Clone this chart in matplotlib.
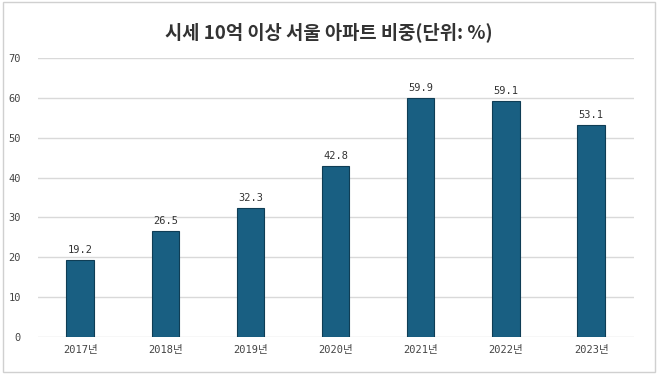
import matplotlib
matplotlib.use("Agg")
import matplotlib.pyplot as plt
from matplotlib.patches import Rectangle

years = ["2017년", "2018년", "2019년", "2020년", "2021년", "2022년", "2023년"]
values = [19.2, 26.5, 32.3, 42.8, 59.9, 59.1, 53.1]
title = "시세 10억 이상 서울 아파트 비중(단위: %)"

plt.rcParams['font.family'] = ['DejaVu Sans Mono', 'Noto Sans CJK KR']

fig = plt.figure(figsize=(6.58, 3.74), dpi=100)
ax = fig.add_axes([0.057, 0.099, 0.906, 0.746])

x = list(range(len(years)))
bars = ax.bar(x, values, width=0.32, color="#195f82", edgecolor="#0f3d55", linewidth=0.8, zorder=3)
for xi, v in zip(x, values):
    ax.text(xi, v + 1.3, f"{v:.1f}", ha="center", va="bottom", fontsize=7.5, color="#333333")

ax.set_xlim(-0.5, len(years) - 0.5)
ax.set_ylim(0, 70)
ax.set_yticks(range(0, 71, 10))
ax.set_xticks(x)
ax.set_xticklabels(years, family=['DejaVu Sans Mono', 'Noto Sans CJK KR'])
ax.tick_params(axis="both", length=0, labelsize=7.5, colors="#444444")
ax.tick_params(axis="y", pad=12)
ax.tick_params(axis="x", pad=6)
ax.grid(axis="y", color="#d9d9d9", linewidth=1, zorder=0)
for s in ax.spines.values():
    s.set_visible(False)

fig.text(0.5, 0.915, title, ha="center", va="center", fontsize=13.5, fontweight="bold",
         color="#333333", family=['Noto Sans CJK KR', 'DejaVu Sans'])

fig.patches.append(Rectangle((0.004, 0.006), 0.992, 0.988, transform=fig.transFigure,
                             fill=False, edgecolor="#d0d0d0", linewidth=1))

fig.savefig("out.png", dpi=100)
